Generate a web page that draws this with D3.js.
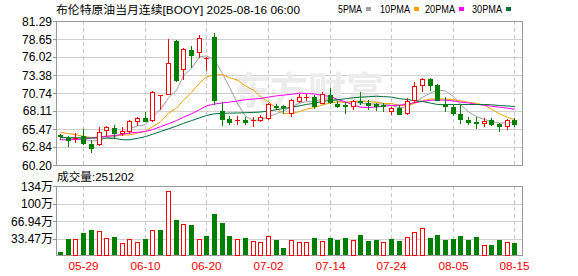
<!DOCTYPE html>
<html>
<head>
<meta charset="utf-8">
<script src="https://cdn.jsdelivr.net/npm/d3@7"></script>
<style>
  body { margin: 0; background: #fff; }
  svg  { display: block; }
  text { font-family: "Liberation Sans", Arial, "Noto Sans CJK SC", sans-serif; }
</style>
</head>
<body>
<svg id="chart" width="578" height="276"></svg>
<script>

// ---- data ----
const dates = [
  '05-26','05-27','05-28','05-29','05-30',
  '06-02','06-03','06-04','06-05','06-06','06-09','06-10','06-11','06-12','06-13',
  '06-16','06-17','06-18','06-19','06-20','06-23','06-24','06-25','06-26','06-27','06-30',
  '07-01','07-02','07-03','07-04','07-07','07-08','07-09','07-10','07-11',
  '07-14','07-15','07-16','07-17','07-18','07-21','07-22','07-23','07-24','07-25',
  '07-28','07-29','07-30','07-31','08-01',
  '08-04','08-05','08-06','08-07','08-08','08-11','08-12','08-13','08-14','08-15'
];

const open  = [64.55,64.16,64.07,64.51,63.33,63.28,65.34,65.58,64.85,65.24,
               66.66,67.15,66.81,70.28,70.62,78.40,74.29,76.98,76.79,75.81,
               78.99,68.18,67.00,66.76,66.86,66.66,66.76,67.10,68.86,68.91,
               67.83,69.60,70.04,70.09,69.35,70.38,69.20,69.01,68.91,69.60,
               69.30,69.16,68.96,68.18,68.52,67.83,69.69,71.94,72.83,71.85,
               69.20,68.76,67.69,66.86,66.46,66.32,66.86,66.22,65.93,66.86];
const high  = [64.75,64.46,64.90,65.54,63.82,65.83,65.98,66.07,65.78,66.76,
               67.30,67.93,70.97,70.48,78.60,78.50,77.38,77.62,79.24,76.01,
               79.58,69.45,67.34,67.44,67.20,67.20,67.49,69.25,69.16,68.96,
               69.89,70.67,70.53,70.38,70.82,71.50,69.55,69.45,69.79,70.82,
               69.74,69.35,69.30,68.67,69.01,69.94,72.29,72.88,72.88,72.09,
               70.09,69.01,69.20,67.25,67.20,67.05,67.10,66.37,67.00,67.05];
const low   = [64.02,62.94,63.53,63.28,62.06,63.09,64.41,64.16,64.65,64.90,
               66.07,66.61,66.71,68.47,70.53,72.48,72.83,74.54,76.05,74.10,
               69.20,66.02,66.27,66.27,66.22,65.97,66.61,67.00,68.47,67.83,
               67.34,69.50,69.74,68.62,69.25,69.30,68.67,67.83,68.42,69.20,
               68.42,68.23,68.13,67.74,67.64,67.64,69.45,71.06,71.16,69.65,
               68.08,67.59,66.37,66.27,65.58,65.88,66.07,65.14,65.53,65.97];
const close = [64.41,63.82,64.21,63.38,62.65,65.05,65.73,64.90,65.19,66.66,
               67.10,66.71,70.82,70.43,75.17,72.68,77.23,76.30,78.84,75.91,
               69.79,67.00,66.51,66.86,66.51,66.76,67.30,69.16,68.76,68.67,
               69.65,70.09,70.18,68.91,70.67,69.40,68.91,68.86,69.55,69.50,
               68.96,68.81,68.86,68.62,67.69,69.60,71.80,72.83,71.90,69.79,
               68.81,67.83,67.00,66.46,66.37,66.71,66.22,65.88,66.86,66.17];

// volume, in 万
const volume = [8.4,33.0,33.0,44.6,50.4,47.9,34.3,36.9,25.2,32.3,
                27.2,33.0,49.8,50.4,123.5,67.9,62.1,60.2,32.3,38.8,
                79.6,64.0,38.8,32.3,34.9,28.5,26.5,38.2,31.0,15.5,
                30.4,27.2,27.2,34.9,29.1,34.9,31.0,34.9,31.0,40.7,
                27.8,31.0,27.2,33.0,27.8,36.9,46.6,54.3,34.9,40.7,
                31.0,33.0,38.8,31.0,36.9,21.3,21.3,31.0,27.2,25.12];

const ma5  = [64.30,64.15,64.10,63.95,63.69,63.82,64.20,64.34,64.70,65.51,
              65.92,66.11,67.30,68.34,70.05,71.16,73.27,74.36,76.04,76.19,
              75.61,73.57,71.61,69.21,67.33,66.73,66.79,67.32,67.70,68.13,
              68.71,69.27,69.47,69.50,69.90,69.85,69.61,69.35,69.48,69.24,
              69.16,69.14,69.14,68.95,68.59,68.72,69.31,70.11,70.76,71.18,
              71.03,70.23,69.07,67.98,67.29,66.87,66.55,66.33,66.41,66.37];
const ma10 = [65.00,64.80,64.65,64.41,64.21,64.31,64.41,64.51,64.60,64.60,
              64.87,65.16,65.82,66.52,67.78,68.54,69.69,70.83,72.19,73.12,
              73.39,73.42,72.99,72.63,71.76,71.17,70.18,69.46,68.46,67.73,
              67.72,68.03,68.39,68.60,69.02,69.28,69.44,69.41,69.49,69.57,
              69.50,69.38,69.24,69.21,68.92,68.94,69.23,69.62,69.86,69.89,
              69.87,69.77,69.59,69.37,69.24,68.95,68.39,67.70,67.19,66.83];
const ma20 = [63.90,63.90,63.92,64.00,64.15,64.30,64.40,64.50,64.70,64.88,
              65.00,65.10,65.40,65.80,66.25,66.70,67.20,67.70,68.30,68.86,
              69.13,69.29,69.40,69.58,69.77,69.86,69.93,70.15,70.33,70.43,
              70.55,70.72,70.69,70.61,70.39,70.23,69.81,69.44,68.97,68.65,
              68.61,68.70,68.82,68.91,68.97,69.11,69.33,69.52,69.67,69.73,
              69.69,69.57,69.42,69.29,69.08,68.94,68.81,68.66,68.53,68.36];
const ma30 = [64.20,64.20,64.20,64.18,64.15,64.15,64.13,64.10,63.90,63.90,
              64.10,64.36,64.70,65.10,65.50,65.90,66.30,66.70,67.10,67.45,
              67.70,67.76,67.80,67.82,67.86,67.90,67.96,68.10,68.30,68.48,
              68.66,68.87,69.07,69.25,69.52,69.66,69.77,69.90,70.05,70.14,
              70.20,70.27,70.21,70.15,69.90,69.80,69.61,69.50,69.27,69.06,
              69.03,69.06,69.07,69.06,69.06,69.06,69.02,68.91,68.85,68.76];

const priceTicks     = [81.29, 78.65, 76.02, 73.38, 70.74, 68.11, 65.47, 62.84, 60.20];
const volTicks       = [133.88, 100.41, 66.94, 33.47];
const volTickLabels  = ['134万', '100万', '66.94万', '33.47万'];
const dateTicks      = ['05-29','06-10','06-20','07-02','07-14','07-24','08-05','08-15'];
const maNames        = ['5PMA', '10PMA', '20PMA', '30PMA'];
const maColors       = ['#a0a0a0', '#f0a000', '#ff00ff', '#00703c'];
const titleText      = '布伦特原油当月连续[BOOY] 2025-08-16 06:00';
const volumeText     = '成交量:251202';

// ---- layout ----
const RED = '#ff0000', GREEN = '#008000';
const plotL = 56.5, plotR = 522.5;
const mainTop = 21, mainBot = 165;
const volTop = 186, volBot = 256;

const svg = d3.select('#chart');

const x  = d3.scaleBand().domain(dates).range([56.15, 518.15]);
const y  = d3.scaleLinear().domain([60.20, 81.29]).range([mainBot, mainTop]);
const yv = d3.scaleLinear().domain([0, 133.88]).range([volBot, volTop]);
const cx = d => Math.round(x(d) + x.bandwidth() / 2);
const px = v => Math.round(v) + 0.5;

const data = dates.map((d, i) => ({
  date: d, o: open[i], h: high[i], l: low[i], c: close[i], v: volume[i],
  volUp: i > 0 && close[i] > close[i - 1]
}));

// ---- title / legend ----
svg.append('text')
    .attr('x', 56).attr('y', 14)
    .attr('font-family', '"Noto Sans CJK SC", sans-serif')
    .attr('font-size', 11.5)
    .attr('textLength', 244).attr('lengthAdjust', 'spacingAndGlyphs')
    .text(titleText);

const legendX  = [338, 380, 425, 472];
const legendW  = [24, 30, 30, 30];
const legend = svg.append('g');
maNames.forEach((name, i) => {
  legend.append('text')
      .attr('x', legendX[i]).attr('y', 13)
      .attr('font-family', '"Liberation Mono", monospace')
      .attr('font-size', 11)
      .attr('textLength', legendW[i]).attr('lengthAdjust', 'spacingAndGlyphs')
      .text(name);
  legend.append('rect')
      .attr('x', legendX[i] + legendW[i] + 4).attr('y', 7)
      .attr('width', 5).attr('height', 4)
      .attr('fill', maColors[i]);
});

// ---- grids ----
const grid = svg.append('g').attr('shape-rendering', 'crispEdges');

grid.selectAll('.hg').data(priceTicks).enter().append('line')
    .attr('x1', plotL).attr('x2', plotR)
    .attr('y1', d => px(y(d))).attr('y2', d => px(y(d)))
    .attr('stroke', '#d0d0d0');

grid.selectAll('.vg').data(volTicks).enter().append('line')
    .attr('x1', plotL).attr('x2', plotR)
    .attr('y1', d => px(yv(d))).attr('y2', d => px(yv(d)))
    .attr('stroke', '#d0d0d0');

[[mainTop, mainBot], [volTop, volBot]].forEach(([t, b]) => {
  grid.selectAll(null).data(dateTicks).enter().append('line')
      .attr('x1', d => cx(d) + 0.5).attr('x2', d => cx(d) + 0.5)
      .attr('y1', t).attr('y2', b)
      .attr('stroke', '#c8c8c8')
      .attr('stroke-dasharray', '4,3');
});

// watermark
svg.append('text')
    .attr('x', 232).attr('y', 104)
    .attr('font-family', '"Noto Sans CJK SC", sans-serif')
    .attr('font-size', 38).attr('font-weight', 'bold')
    .attr('fill', '#ececec')
    .text('东方财富');

// ---- frames ----
const frame = svg.append('g').attr('shape-rendering', 'crispEdges')
    .attr('fill', 'none').attr('stroke', '#999');
frame.append('rect').attr('x', plotL).attr('y', mainTop + 0.5)
    .attr('width', plotR - plotL).attr('height', mainBot - mainTop);
frame.append('rect').attr('x', plotL).attr('y', volTop + 0.5)
    .attr('width', plotR - plotL).attr('height', volBot - volTop - 1);

// ---- y axis labels ----
const axisTxt = svg.append('g').attr('font-size', 12).attr('text-anchor', 'end');
axisTxt.selectAll('.pl').data(priceTicks).enter().append('text')
    .attr('x', 52).attr('y', d => y(d) + 4.5)
    .text(d => d.toFixed(2));
axisTxt.selectAll('.vl').data(volTicks).enter().append('text')
    .attr('x', 53).attr('y', (d, i) => yv(d) + 4.5)
    .text((d, i) => volTickLabels[i]);

const ticks = svg.append('g').attr('shape-rendering', 'crispEdges').attr('stroke', '#999');
ticks.selectAll(null).data(priceTicks).enter().append('line')
    .attr('x1', 53).attr('x2', plotL)
    .attr('y1', d => px(y(d))).attr('y2', d => px(y(d)));
ticks.selectAll(null).data(volTicks).enter().append('line')
    .attr('x1', 53).attr('x2', plotL)
    .attr('y1', d => px(yv(d))).attr('y2', d => px(yv(d)));

// ---- moving averages ----
const mas = [ma5, ma10, ma20, ma30];
mas.forEach((arr, k) => {
  const line = d3.line()
      .x((v, i) => cx(dates[i]) + 0.5)
      .y(v => y(v));
  svg.append('path')
      .attr('d', line(arr))
      .attr('fill', 'none')
      .attr('stroke', maColors[k])
      .attr('stroke-width', 1);
});

// ---- candles ----
const candles = svg.append('g').attr('shape-rendering', 'crispEdges');
const cg = candles.selectAll('g').data(data).enter().append('g');

cg.append('line')
    .attr('x1', d => cx(d.date) + 0.5).attr('x2', d => cx(d.date) + 0.5)
    .attr('y1', d => Math.round(y(d.h))).attr('y2', d => Math.round(y(d.l)) + 1)
    .attr('stroke', d => d.c >= d.o ? RED : GREEN);

cg.each(function(d) {
  const g = d3.select(this);
  const top = Math.round(y(Math.max(d.o, d.c)));
  const bot = Math.round(y(Math.min(d.o, d.c)));
  const c = cx(d.date);
  if (d.c >= d.o) {
    if (bot - top < 2) {
      g.append('line').attr('x1', c - 2).attr('x2', c + 3)
          .attr('y1', top + 0.5).attr('y2', top + 0.5).attr('stroke', RED);
    } else {
      g.append('rect').attr('x', c - 1.5).attr('y', top + 0.5)
          .attr('width', 4).attr('height', bot - top)
          .attr('fill', '#fff').attr('stroke', RED);
    }
  } else {
    g.append('rect').attr('x', c - 2).attr('y', top)
        .attr('width', 5).attr('height', Math.max(1, bot - top + 1))
        .attr('fill', GREEN);
  }
});

// ---- volume ----
svg.append('text')
    .attr('x', 57).attr('y', 181)
    .attr('font-family', '"Noto Sans CJK SC", sans-serif')
    .attr('font-size', 11.5)
    .attr('textLength', 77).attr('lengthAdjust', 'spacingAndGlyphs')
    .text(volumeText);

const vol = svg.append('g').attr('shape-rendering', 'crispEdges');
vol.selectAll('rect').data(data).enter().append('rect')
    .attr('x', d => d.volUp ? cx(d.date) - 1.5 : cx(d.date) - 2)
    .attr('y', d => Math.round(yv(d.v)) + (d.volUp ? 0.5 : 0))
    .attr('width', d => d.volUp ? 4 : 5)
    .attr('height', d => volBot - 1 - Math.round(yv(d.v)))
    .attr('fill', d => d.volUp ? '#fff' : GREEN)
    .attr('stroke', d => d.volUp ? RED : 'none');

// ---- x labels ----
svg.append('g').selectAll('text').data(dateTicks).enter().append('text')
    .attr('x', d => cx(d) + 0.5).attr('y', 270)
    .attr('text-anchor', 'middle')
    .attr('font-family', '"Liberation Mono", monospace')
    .attr('font-size', 11)
    .attr('textLength', 30).attr('lengthAdjust', 'spacingAndGlyphs')
    .attr('fill', RED)
    .text(d => d);

</script>
</body>
</html>
